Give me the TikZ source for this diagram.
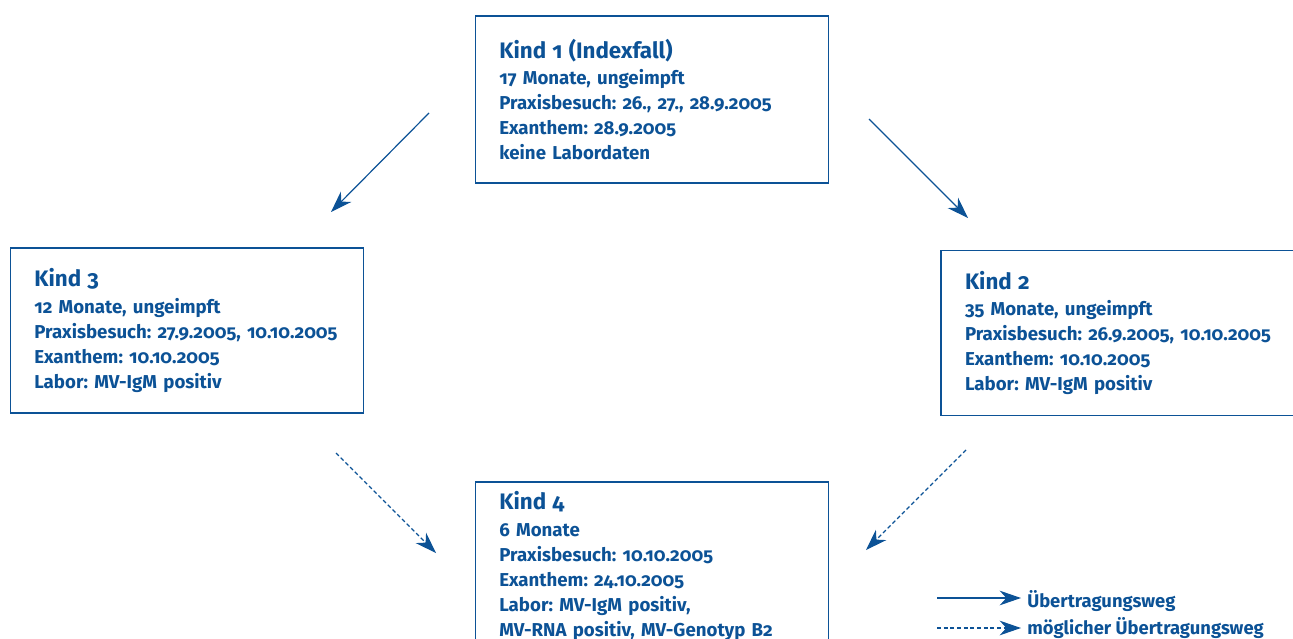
\documentclass[tikz,border=0pt]{standalone}
\usepackage{fontspec}
\setmainfont{Fira Sans}[Numbers=OldStyle]
\usetikzlibrary{arrows.meta}
\definecolor{rkiblau}{RGB}{12,82,150}
\tikzset{
  kindbox/.style={draw=rkiblau,line width=1pt,text=rkiblau,align=left,
    text width=229pt,inner xsep=18pt,inner ysep=0pt,minimum height=#1,
    font=\bfseries\fontsize{14}{18.75}\selectfont},
  weg/.style={rkiblau,line width=0.9pt,-{Stealth[length=16pt,width=11pt,inset=5pt]}},
  moeglweg/.style={weg,dash pattern=on 3pt off 2pt},
  legtext/.style={text=rkiblau,anchor=base west,inner sep=0pt,
    font=\bfseries\fontsize{13.8}{15}\selectfont}
}
\newcommand{\kindtitel}[1]{{\fontsize{16.8}{19.5}\selectfont #1}\\[1pt]}
\frenchspacing
\begin{document}
\begin{tikzpicture}[x=0.75pt,y=0.75pt,yscale=-1,xscale=1]
\useasboundingbox (0,0) rectangle (1293,639);
% Kinder
\node[kindbox=125.25pt] (kind1) at (652,99.5) {\kindtitel{Kind 1 (Indexfall)}17 Monate, ungeimpft\\Praxisbesuch: 26., 27., 28.9.2005\\Exanthem: 28.9.2005\\keine Labordaten};
\node[kindbox=123.75pt] (kind3) at (187,330.5) {\kindtitel{Kind 3}12 Monate, ungeimpft\\Praxisbesuch: 27.9.2005, 10.10.2005\\Exanthem: 10.10.2005\\Labor: MV-IgM positiv};
\node[kindbox=123.75pt,text width=240pt] (kind2) at (1125,333) {\kindtitel{Kind 2}35 Monate, ungeimpft\\Praxisbesuch: 26.9.2005, 10.10.2005\\Exanthem: 10.10.2005\\Labor: MV-IgM positiv};
\node[kindbox=126pt] (kind4) at (652,566) {\kindtitel{Kind 4}6 Monate\\Praxisbesuch: 10.10.2005\\Exanthem: 24.10.2005\\Labor: MV-IgM positiv,\\MV-RNA positiv, MV-Genotyp B2};
% Pfeile
\coordinate (p1a) at (429,113);
\coordinate (p1b) at (331,212);
\coordinate (p2a) at (869,119);
\coordinate (p2b) at (968,218);
\coordinate (p3a) at (336,453);
\coordinate (p3b) at (436,553);
\coordinate (p4a) at (966,450);
\coordinate (p4b) at (866,550);
\draw[weg] (p1a) -- (p1b);
\draw[weg] (p2a) -- (p2b);
\draw[moeglweg] (p3a) -- (p3b);
\draw[moeglweg] (p4a) -- (p4b);
% Legende
\coordinate (l1a) at (937,598);
\coordinate (l1b) at (1021,598);
\coordinate (l2a) at (937,628);
\coordinate (l2b) at (1021,628);
\draw[weg] (l1a) -- (l1b);
\draw[moeglweg] (l2a) -- (l2b);
\node[legtext] (leg1) at (1027,607) {Übertragungsweg};
\node[legtext] (leg2) at (1027,634) {möglicher Übertragungsweg};
\end{tikzpicture}
\end{document}
